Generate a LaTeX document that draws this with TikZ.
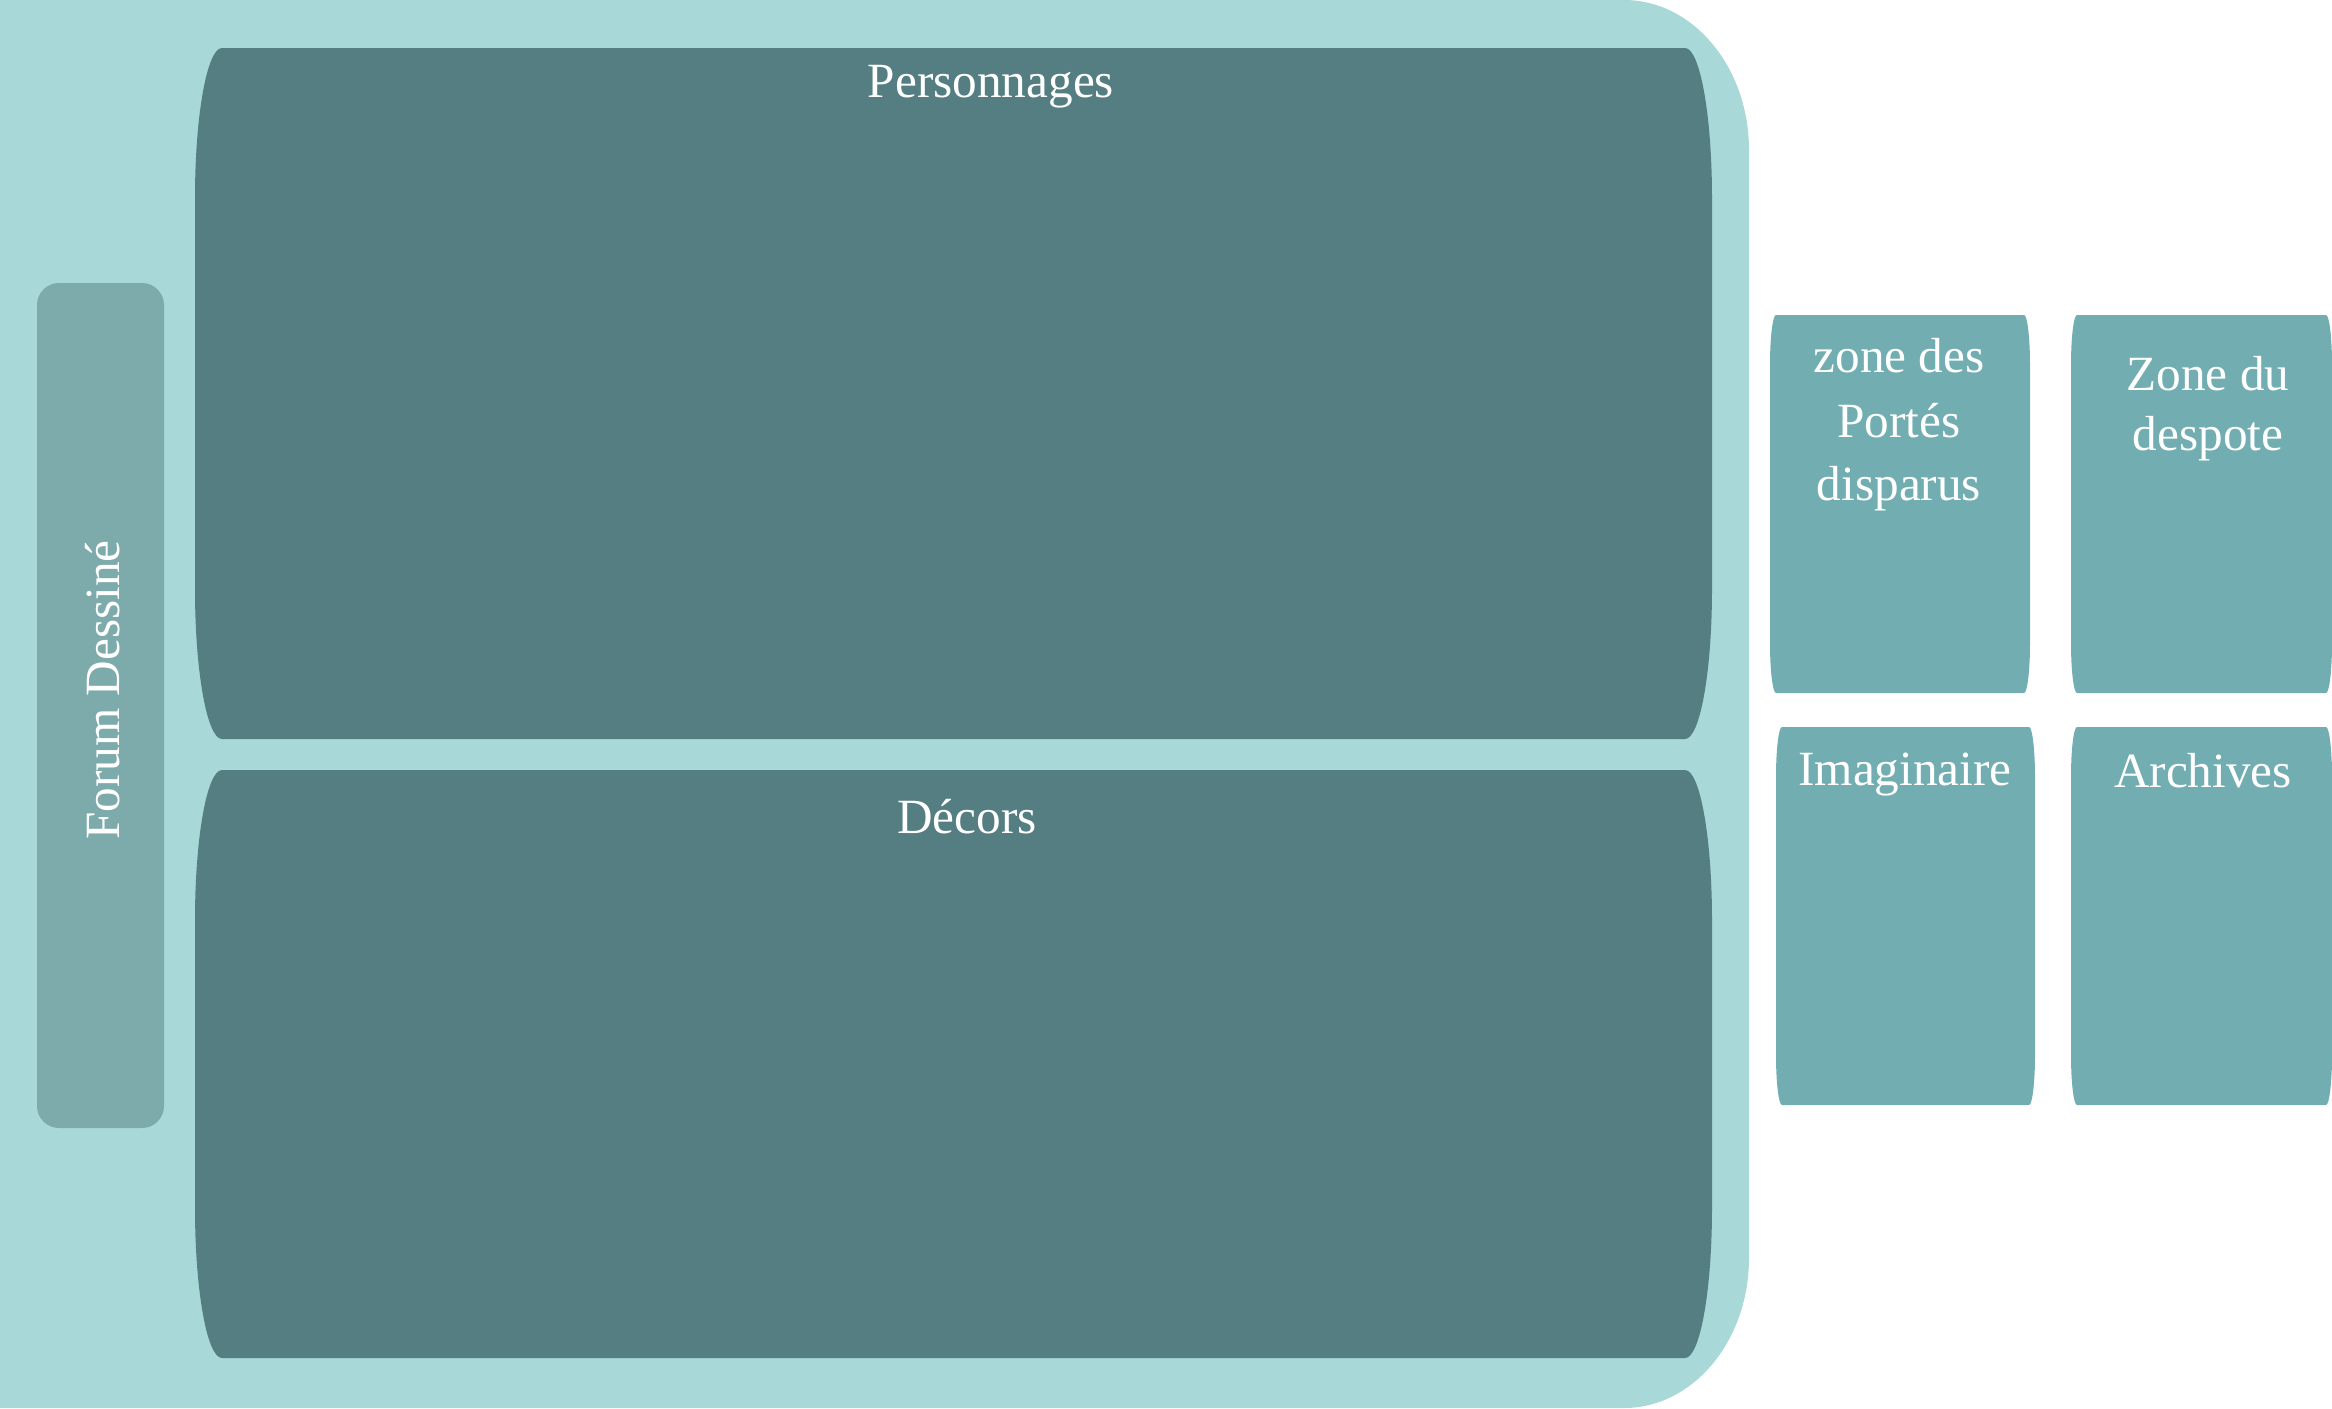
\documentclass[tikz,border=0pt]{standalone}
\usepackage{fontspec}
\setmainfont{Liberation Serif}
\definecolor{outerc}{HTML}{A8D8D8}
\definecolor{darkc}{HTML}{557E82}
\definecolor{forumc}{HTML}{7DAAAB}
\definecolor{sidec}{HTML}{72AEB1}
% elliptical-corner box: x1 y1 x2 y2 rx ry (y grows downward)
\newcommand\eboxpath[6]{%
 (#1+#5,#2) -- (#3-#5,#2)
 .. controls (#3-#5+0.5523*#5,#2) and (#3,#2+#6-0.5523*#6) .. (#3,#2+#6)
 -- (#3,#4-#6)
 .. controls (#3,#4-#6+0.5523*#6) and (#3-#5+0.5523*#5,#4) .. (#3-#5,#4)
 -- (#1+#5,#4)
 .. controls (#1+#5-0.5523*#5,#4) and (#1,#4-#6+0.5523*#6) .. (#1,#4-#6)
 -- (#1,#2+#6)
 .. controls (#1,#2+#6-0.5523*#6) and (#1+#5-0.5523*#5,#2) .. (#1+#5,#2) -- cycle}
\begin{document}
\begin{tikzpicture}[x=0.01cm,y=-0.01cm,
  lbl/.style={text=white,font=\fontsize{14}{18}\selectfont,inner sep=0pt,anchor=base}]
\useasboundingbox (0,0) rectangle (2332,1408);
% outer panel
\fill[outerc] (0,0) -- (1624,0)
  .. controls (1693,0) and (1749,67) .. (1749,150)
  -- (1749,1258)
  .. controls (1749,1341) and (1693,1408) .. (1624,1408)
  -- (0,1408) -- cycle;
% main dark boxes
\fill[darkc] \eboxpath{195}{48}{1712}{739}{27}{150};
\fill[darkc] \eboxpath{195}{770}{1712}{1358}{27}{150};
% forum box
\fill[forumc, rounded corners=22*0.01cm] (37,283) rectangle (164,1128);
% side boxes
\fill[sidec] \eboxpath{1770}{315}{2030}{693}{6}{50};
\fill[sidec] \eboxpath{2071}{315}{2332}{693}{6}{50};
\fill[sidec] \eboxpath{1776}{727}{2035}{1105}{6}{50};
\fill[sidec] \eboxpath{2071}{727}{2332}{1105}{6}{50};
% labels
\node[lbl] (perso) at (991,97) {Personnages};
\node[lbl] (decors) at (967,833) {Décors};
\node[lbl,rotate=90] (forum) at (120,690) {Forum Dessiné};
\node[lbl] (zoneA) at (1899,372) {zone des};
\node[lbl] (zoneB) at (1899,437) {Portés};
\node[lbl] (zoneC) at (1899,500) {disparus};
\node[lbl] (despA) at (2208,390) {Zone du};
\node[lbl] (despB) at (2208,450) {despote};
\node[lbl] (imag) at (1905,785) {Imaginaire};
\node[lbl] (arch) at (2203,787) {Archives};
\end{tikzpicture}
\end{document}
